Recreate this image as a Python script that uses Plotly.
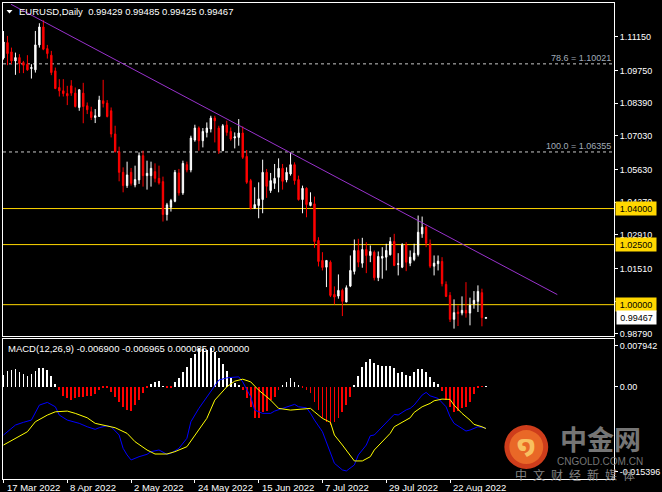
import plotly.graph_objects as go
import pandas as pd

# ---------------- data ----------------
dates = [d.strftime('%Y-%m-%d') for d in pd.bdate_range('2022-03-17', '2022-09-02')]

opens = [1.1027, 1.10905, 1.10519, 1.10145, 1.10282, 1.10075, 1.10008, 1.09826, 1.09772, 1.10810,
         1.11557, 1.10656, 1.10382, 1.09730, 1.09037, 1.08900, 1.08787, 1.09107, 1.08804, 1.08206,
         1.08804, 1.08277, 1.08027, 1.07791, 1.07832, 1.08484, 1.08389, 1.08069, 1.07101, 1.06366,
         1.05507, 1.04954, 1.05507, 1.04983, 1.05191, 1.06200, 1.05370, 1.05370, 1.05536, 1.05257,
         1.05120, 1.03750, 1.04053, 1.04302, 1.05482, 1.04651, 1.05826, 1.05606, 1.06852, 1.07350,
         1.06823, 1.07168, 1.07309, 1.07766, 1.07350, 1.06408, 1.07475, 1.07209, 1.06935, 1.06960,
         1.07143, 1.06171, 1.05162, 1.04012, 1.04124, 1.04373, 1.05507, 1.04747, 1.05050, 1.05299,
         1.05673, 1.05191, 1.05440, 1.05826, 1.05204, 1.04373, 1.04842, 1.04124, 1.04195, 1.02670,
         1.01840, 1.01561, 1.01769, 1.00428, 1.00357, 1.00594, 1.00108, 1.00772, 1.01383, 1.02255,
         1.01727, 1.02296, 1.02047, 1.02184, 1.01121, 1.01935, 1.01977, 1.02076, 1.02629, 1.01674,
         1.01561, 1.02492, 1.01727, 1.01881, 1.02089, 1.02948, 1.03223, 1.02533, 1.01603, 1.01702,
         1.01798, 1.00843, 1.00386, 0.99390, 0.99693, 0.99651, 0.99763, 0.99651, 1.00041, 1.00137,
         1.00498, 0.99429]
highs = [1.1139, 1.11184, 1.10698, 1.10490, 1.10424, 1.10145, 1.10382, 1.10008, 1.11391, 1.11711,
         1.11836, 1.10810, 1.10561, 1.09867, 1.09385, 1.09385, 1.09107, 1.09344, 1.09037, 1.08970,
         1.09232, 1.08414, 1.08235, 1.08139, 1.08692, 1.09356, 1.08513, 1.08206, 1.07446, 1.06574,
         1.05714, 1.05951, 1.05689, 1.05785, 1.06337, 1.06408, 1.05993, 1.05951, 1.05880, 1.05785,
         1.05328, 1.04236, 1.04402, 1.05606, 1.05648, 1.05993, 1.05951, 1.07031, 1.07488, 1.07417,
         1.07350, 1.07583, 1.07861, 1.07861, 1.07446, 1.07516, 1.07654, 1.07375, 1.07168, 1.07724,
         1.07417, 1.06437, 1.05233, 1.04884, 1.05091, 1.06034, 1.05648, 1.05482, 1.05855, 1.06088,
         1.05855, 1.05714, 1.06337, 1.05922, 1.05370, 1.04954, 1.04884, 1.04676, 1.04498, 1.02807,
         1.02184, 1.01840, 1.01840, 1.00760, 1.01258, 1.00665, 1.00802, 1.02047, 1.02712, 1.02741,
         1.02782, 1.02600, 1.02463, 1.02255, 1.02213, 1.02392, 1.02533, 1.02807, 1.02948, 1.02143,
         1.02558, 1.02600, 1.02255, 1.02533, 1.03709, 1.03667, 1.03293, 1.02712, 1.02047, 1.02047,
         1.01976, 1.00968, 1.00523, 1.00220, 0.99971, 1.00345, 1.00938, 1.00291, 1.00565, 1.00802,
         1.00665, 0.99485]
lows = [1.1020, 1.09967, 1.10008, 1.09564, 1.09635, 1.09635, 1.09730, 1.09410, 1.09659, 1.10698,
        1.10590, 1.10241, 1.09551, 1.08970, 1.08663, 1.08663, 1.08306, 1.08692, 1.08206, 1.08069,
        1.07550, 1.07932, 1.07683, 1.07558, 1.07832, 1.08206, 1.07791, 1.06960, 1.06337, 1.05133,
        1.04676, 1.04859, 1.04954, 1.04884, 1.05025, 1.04913, 1.04788, 1.04913, 1.05091, 1.04996,
        1.03459, 1.03501, 1.03875, 1.04261, 1.04539, 1.04568, 1.05507, 1.05507, 1.06781, 1.06408,
        1.06545, 1.06960, 1.07168, 1.06752, 1.06271, 1.06408, 1.07031, 1.06823, 1.06503, 1.06616,
        1.06063, 1.05025, 1.03958, 1.03987, 1.03596, 1.03804, 1.04444, 1.04651, 1.04817, 1.04676,
        1.04788, 1.05091, 1.05370, 1.04996, 1.04331, 1.03804, 1.03638, 1.04095, 1.02367, 1.01590,
        1.01424, 1.00731, 1.00316, 1.00013, 1.00249, 0.99526, 1.00108, 1.00731, 1.01258, 1.01561,
        1.01537, 1.01312, 1.01769, 1.01009, 1.00980, 1.01080, 1.01424, 1.02047, 1.01603, 1.01217,
        1.01520, 1.01395, 1.01603, 1.01810, 1.02006, 1.02782, 1.02392, 1.01520, 1.01217, 1.01424,
        1.00760, 1.00316, 0.99278, 0.99003, 0.99111, 0.99556, 0.99460, 0.99140, 0.99834, 0.99693,
        0.99099, 0.99425]
closes = [1.1093, 1.10448, 1.10145, 1.10282, 1.10033, 1.09967, 1.09772, 1.09867, 1.10810, 1.11557,
          1.10631, 1.10448, 1.09659, 1.08995, 1.08900, 1.08787, 1.08692, 1.08804, 1.08248, 1.08941,
          1.08248, 1.08111, 1.07791, 1.07861, 1.08513, 1.08372, 1.07832, 1.07101, 1.06366, 1.05507,
          1.04954, 1.05399, 1.05050, 1.05204, 1.06200, 1.05370, 1.05465, 1.05673, 1.05257, 1.05066,
          1.03750, 1.04153, 1.04331, 1.05507, 1.04651, 1.05880, 1.05606, 1.06935, 1.07350, 1.06823,
          1.07209, 1.07350, 1.07766, 1.07654, 1.06408, 1.07446, 1.07168, 1.06894, 1.06989, 1.07143,
          1.06130, 1.05091, 1.04012, 1.04165, 1.04402, 1.05507, 1.04925, 1.05162, 1.05257, 1.05673,
          1.05133, 1.05507, 1.05826, 1.05162, 1.04373, 1.04842, 1.04165, 1.04261, 1.02629, 1.01798,
          1.01549, 1.01840, 1.00386, 1.00316, 1.00594, 1.00137, 1.00706, 1.01424, 1.02255, 1.01769,
          1.02296, 1.02047, 1.02213, 1.01121, 1.02006, 1.02006, 1.02255, 1.02629, 1.01632, 1.01702,
          1.02492, 1.01769, 1.01977, 1.02143, 1.03015, 1.03223, 1.02558, 1.01603, 1.01727, 1.01810,
          1.00872, 1.00345, 0.99390, 0.99668, 0.99626, 0.99763, 0.99651, 0.99971, 1.00179, 1.00552,
          0.99460, 0.99467]

macd_hist = [0.00193, 0.00260, 0.00277, 0.00288, 0.00248, 0.00205, 0.00182, 0.00215, 0.00260, 0.00315,
             0.00315, 0.00277, 0.00182, 0.00038, -0.00057, -0.00152, -0.00195, -0.00223, -0.00195, -0.00168,
             -0.00168, -0.00152, -0.00152, -0.00128, -0.00057, -0.00010, -0.00010, -0.00085, -0.00168, -0.00252,
             -0.00335, -0.00390, -0.00407, -0.00307, -0.00223, -0.00112, -0.00028, 0.00038, 0.00082, 0.00093,
             0.00005, -0.00018, -0.00028, 0.00082, 0.00138, 0.00238, 0.00332, 0.00472, 0.00538, 0.00638,
             0.00627, 0.00610, 0.00638, 0.00582, 0.00472, 0.00372, 0.00260, 0.00148, 0.00055, 0.00027,
             -0.00057, -0.00195, -0.00335, -0.00518, -0.00528, -0.00428, -0.00407, -0.00223, -0.00168, -0.00057,
             0.00027, 0.00082, 0.00138, 0.00082, 0.00010, -0.00010, -0.00057, -0.00112, -0.00252, -0.00390,
             -0.00528, -0.00595, -0.00640, -0.00595, -0.00528, -0.00418, -0.00307, -0.00168, 0.00027, 0.00182,
             0.00332, 0.00415, 0.00460, 0.00388, 0.00360, 0.00348, 0.00348, 0.00348, 0.00305, 0.00222,
             0.00238, 0.00193, 0.00182, 0.00248, 0.00293, 0.00293, 0.00248, 0.00165, 0.00082, 0.00038,
             -0.00073, -0.00223, -0.00335, -0.00428, -0.00407, -0.00352, -0.00335, -0.00252, -0.00128, -0.00018,
             -0.00005, 0.000085]

macd_idx = [0, 3, 5, 7, 9, 11, 13, 14, 16, 18, 19, 21, 23, 24, 26, 27, 29, 30, 31, 32,
            34, 36, 37, 39, 41, 42, 44, 46, 47, 49, 51, 53, 54, 56, 57, 59, 60, 62, 63, 65,
            67, 68, 70, 72, 73, 74, 76, 77, 78, 80, 81, 82, 83, 85, 86, 88, 89, 91, 92, 93,
            95, 97, 98, 99, 101, 102, 103, 105, 106, 107, 109, 111, 112, 113, 115, 116, 117, 119, 121]
macd_line = [-0.00805, -0.00638, -0.00593, -0.00555, -0.00305, -0.00260, -0.00333, -0.00472, -0.00555, -0.00593,
             -0.00610, -0.00667, -0.00710, -0.00683, -0.00650, -0.00667, -0.00805, -0.01027, -0.01138, -0.01222,
             -0.01167, -0.01127, -0.01083, -0.01055, -0.01127, -0.01110, -0.01027, -0.00860, -0.00583, -0.00360,
             -0.00167, 0.00028, 0.00112, 0.00150, 0.00155, 0.00167, 0.00083, -0.00167, -0.00388, -0.00443,
             -0.00443, -0.00405, -0.00360, -0.00317, -0.00293, -0.00333, -0.00350, -0.00443, -0.00555, -0.00750,
             -0.00917, -0.01083, -0.01277, -0.01388, -0.01405, -0.01305, -0.01138, -0.00972, -0.00817, -0.00805,
             -0.00667, -0.00527, -0.00460, -0.00470, -0.00385, -0.00360, -0.00305, -0.00138, -0.00093, -0.00150,
             -0.00193, -0.00333, -0.00500, -0.00610, -0.00693, -0.00738, -0.00722, -0.00667, -0.00690]

signal_idx = [0, 3, 6, 8, 11, 13, 16, 18, 21, 23, 26, 28, 31, 33, 36, 38, 41, 43, 46, 48,
              51, 53, 56, 58, 60, 62, 64, 67, 69, 72, 74, 77, 78, 80, 82, 83, 85, 87, 88, 90,
              92, 93, 95, 97, 98, 100, 102, 103, 105, 107, 108, 110, 112, 113, 115, 117, 118, 120, 121]
signal_line = [-0.00972, -0.00860, -0.00750, -0.00583, -0.00472, -0.00417, -0.00405, -0.00443, -0.00517, -0.00610,
               -0.00650, -0.00683, -0.00777, -0.00917, -0.01055, -0.01122, -0.01122, -0.01083, -0.01000, -0.00805,
               -0.00527, -0.00222, 0.00000, 0.00095, 0.00128, 0.00083, -0.00055, -0.00222, -0.00360, -0.00388,
               -0.00372, -0.00360, -0.00417, -0.00527, -0.00593, -0.00805, -0.00972, -0.01138, -0.01238, -0.01238,
               -0.01167, -0.01055, -0.00917, -0.00777, -0.00667, -0.00593, -0.00517, -0.00427, -0.00333, -0.00277,
               -0.00233, -0.00205, -0.00210, -0.00305, -0.00443, -0.00555, -0.00627, -0.00667, -0.006965]

price_ticks = [1.11150, 1.09750, 1.08390, 1.07030, 1.05630, 1.04270, 1.02910, 1.01510, 1.00150, 0.98790]
level_lines = [1.04000, 1.02500, 1.00000]
fibo_levels = [1.10021, 1.06355]
fibo_labels = ['78.6 = 1.10021', '100.0 = 1.06355']
trend_points = [(1.9, 1.12500), (138.9, 1.00420)]  # (bar index, price)
date_ticks = ['2022-03-17', '2022-04-08', '2022-05-02', '2022-05-24',
              '2022-06-15', '2022-07-07', '2022-07-29', '2022-08-22']
date_labels = ['17 Mar 2022', '8 Apr 2022', '2 May 2022', '24 May 2022',
               '15 Jun 2022', '7 Jul 2022', '29 Jul 2022', '22 Aug 2022']
last_price = 0.99467
header = 'EURUSD,Daily\u00a0\u00a00.99429 0.99485 0.99425 0.99467'
macd_header = 'MACD(12,26,9) -0.006900 -0.006965 0.000085 0.000000'
macd_range = [-0.015396, 0.007942]

# ---------------- layout helpers (pixel -> paper) ----------------
W, H = 662, 492
ML, MR, MT, MB = 3, 46, 2, 13
PW, PH = W - ML - MR, H - MT - MB
BAR_PX = 4.0          # pixels per daily bar
FIRST_BAR_PX = 3.5    # pixel centre of the first bar


def px(x):
    return (x - ML) / PW


def py(y):
    return (H - MB - y) / PH


FONT = 'Liberation Sans, Arial, sans-serif'
GOLD = '#ffd700'

fig = go.Figure()

fig.add_trace(go.Candlestick(
    x=dates, open=opens, high=highs, low=lows, close=closes,
    increasing=dict(line=dict(color='white', width=1), fillcolor='white'),
    decreasing=dict(line=dict(color='#ff0000', width=1), fillcolor='#ff0000'),
    whiskerwidth=0, hoverinfo='skip', xaxis='x', yaxis='y'))

# MACD histogram: 1px sticks, white above zero, red below
fig.add_trace(go.Bar(
    x=dates, y=macd_hist, width=0.2,
    marker=dict(color=['white' if v >= 0 else '#ff0000' for v in macd_hist], line=dict(width=0)),
    xaxis='x2', yaxis='y2', hoverinfo='skip'))

fig.add_trace(go.Scatter(
    x=[dates[i] for i in macd_idx], y=macd_line, mode='lines',
    line=dict(color='#0000ff', width=1), xaxis='x2', yaxis='y2', hoverinfo='skip'))
fig.add_trace(go.Scatter(
    x=[dates[i] for i in signal_idx], y=signal_line, mode='lines',
    line=dict(color='#ffff00', width=1), xaxis='x2', yaxis='y2', hoverinfo='skip'))

main_bottom = py(336)
macd_top = py(339)
price_range = [(2712.3 - 336) / 2408, (2712.3 - 2) / 2408]
xr = [(ML - FIRST_BAR_PX) / BAR_PX, (ML + PW - FIRST_BAR_PX) / BAR_PX]

axis_common = dict(showgrid=False, zeroline=False, showline=True, mirror=True,
                   linecolor='white', linewidth=1, fixedrange=True)

fig.update_layout(
    width=W, height=H, margin=dict(l=ML, r=MR, t=MT, b=MB),
    paper_bgcolor='black', plot_bgcolor='black', showlegend=False,
    boxgap=0.5, bargap=0,
    font=dict(family=FONT, color='white', size=9),
    xaxis=dict(type='category', categoryorder='array', categoryarray=dates,
               domain=[0, 1], anchor='y', range=xr, showticklabels=False, ticks='',
               rangeslider=dict(visible=False), **axis_common),
    yaxis=dict(domain=[main_bottom, 1], anchor='x', side='right', range=price_range,
               tickvals=price_ticks, ticktext=[f'{v:.5f}' for v in price_ticks],
               ticks='outside', ticklen=3, tickcolor='white',
               tickfont=dict(color='white', size=9, family=FONT), **axis_common),
    xaxis2=dict(type='category', categoryorder='array', categoryarray=dates,
                domain=[0, 1], anchor='y2', range=xr, matches='x',
                tickvals=date_ticks, ticktext=['' for _ in date_ticks], ticks='outside',
                ticklen=3, tickcolor='white', showticklabels=False, **axis_common),
    yaxis2=dict(domain=[0, macd_top], anchor='x2', side='right', range=macd_range,
                tickvals=[macd_range[1] - 0.00112, 0.0, macd_range[0] + 0.00122],
                ticktext=[f'{macd_range[1]:.6f}', '0.00', f'{macd_range[0]:.6f}'],
                ticks='outside', ticklen=3, tickcolor='white',
                tickfont=dict(color='white', size=9, family=FONT), **axis_common),
)

shapes = []
# fibo dashed lines
for lv in fibo_levels:
    shapes.append(dict(type='line', xref='paper', yref='y', x0=0, x1=px(614), y0=lv, y1=lv,
                       line=dict(color='#c8c8c8', width=1, dash='3px,3px'), layer='below'))
# horizontal support/resistance lines
for lv in level_lines:
    shapes.append(dict(type='line', xref='paper', yref='y', x0=0, x1=1, y0=lv, y1=lv,
                       line=dict(color=GOLD, width=1), layer='below'))
# trend line
(tx0, ty0), (tx1, ty1) = trend_points
shapes.append(dict(type='line', xref='x', yref='y', x0=tx0, y0=ty0, x1=tx1, y1=ty1,
                   line=dict(color='#9932cc', width=1)))
# header triangle
shapes.append(dict(type='path', xref='paper', yref='paper',
                   path=f'M {px(6.5)},{py(9)} L {px(12.5)},{py(9)} L {px(9.5)},{py(12.5)} Z',
                   fillcolor='white', line=dict(width=0)))
# watermark logo circle
shapes.append(dict(type='circle', xref='paper', yref='paper',
                   x0=px(506), x1=px(550), y0=py(469), y1=py(425),
                   fillcolor='#d9401c', line=dict(width=0), opacity=0.95))
shapes.append(dict(type='circle', xref='paper', yref='paper',
                   x0=px(511), x1=px(545), y0=py(464), y1=py(430),
                   fillcolor='#ea6a28', line=dict(width=0), opacity=0.95))

annotations = []
annotations.append(dict(xref='paper', yref='paper', x=px(17), y=py(10.5), xanchor='left',
                        yanchor='middle', text=header, showarrow=False,
                        font=dict(color='white', size=9.5, family=FONT)))
annotations.append(dict(xref='paper', yref='paper', x=px(6), y=py(348), xanchor='left',
                        yanchor='middle', text=macd_header, showarrow=False,
                        font=dict(color='white', size=9.5, family=FONT)))
for lv, lab in zip(fibo_levels, fibo_labels):
    annotations.append(dict(xref='paper', yref='y', x=px(614), y=lv, xanchor='right',
                            yanchor='bottom', text=lab, showarrow=False, borderpad=0,
                            font=dict(color='#a0acb8', size=9, family=FONT)))
for lv in level_lines:
    annotations.append(dict(xref='paper', yref='y', x=1, y=lv, xanchor='left', yanchor='middle',
                            xshift=1, text=f'{lv:.5f}', showarrow=False, bgcolor=GOLD,
                            width=38, height=11, borderpad=1, align='center',
                            font=dict(color='black', size=9, family=FONT)))
annotations.append(dict(xref='paper', yref='y', x=1, y=last_price, xanchor='left',
                        yanchor='middle', xshift=2, text=f'{last_price:.5f}', showarrow=False,
                        bgcolor='white', width=37, height=11, borderpad=1, align='center',
                        font=dict(color='black', size=9, family=FONT)))
for d, lab in zip(date_ticks, date_labels):
    annotations.append(dict(xref='x2', yref='paper', x=d, y=py(487.5), xanchor='left',
                            yanchor='middle', xshift=1, text=lab, showarrow=False,
                            font=dict(color='white', size=9.5, family=FONT)))
# watermark texts
annotations.append(dict(xref='paper', yref='paper', x=px(528), y=py(446), xanchor='center',
                        yanchor='middle', text='<b>໑</b>', showarrow=False,
                        font=dict(color='#f8c060', size=24, family='DejaVu Sans')))
annotations.append(dict(xref='paper', yref='paper', x=px(602), y=py(438), xanchor='center',
                        yanchor='middle', text='<b>中金网</b>', showarrow=False, opacity=0.85,
                        font=dict(color='#8a8a8a', size=27, family='Noto Sans CJK SC')))
annotations.append(dict(xref='paper', yref='paper', x=px(602), y=py(461), xanchor='center',
                        yanchor='middle', text='CNGOLD.COM.CN', showarrow=False, opacity=0.85,
                        font=dict(color='#8a8a8a', size=10, family=FONT)))
annotations.append(dict(xref='paper', yref='paper', x=px(577), y=py(474.5), xanchor='center',
                        yanchor='middle', text='\u2002'.join('中文财经新媒体'), showarrow=False,
                        opacity=0.85,
                        font=dict(color='#9a9a9a', size=12, family='Noto Sans CJK SC')))

fig.update_layout(shapes=shapes, annotations=annotations)

fig.write_html('out.html')
